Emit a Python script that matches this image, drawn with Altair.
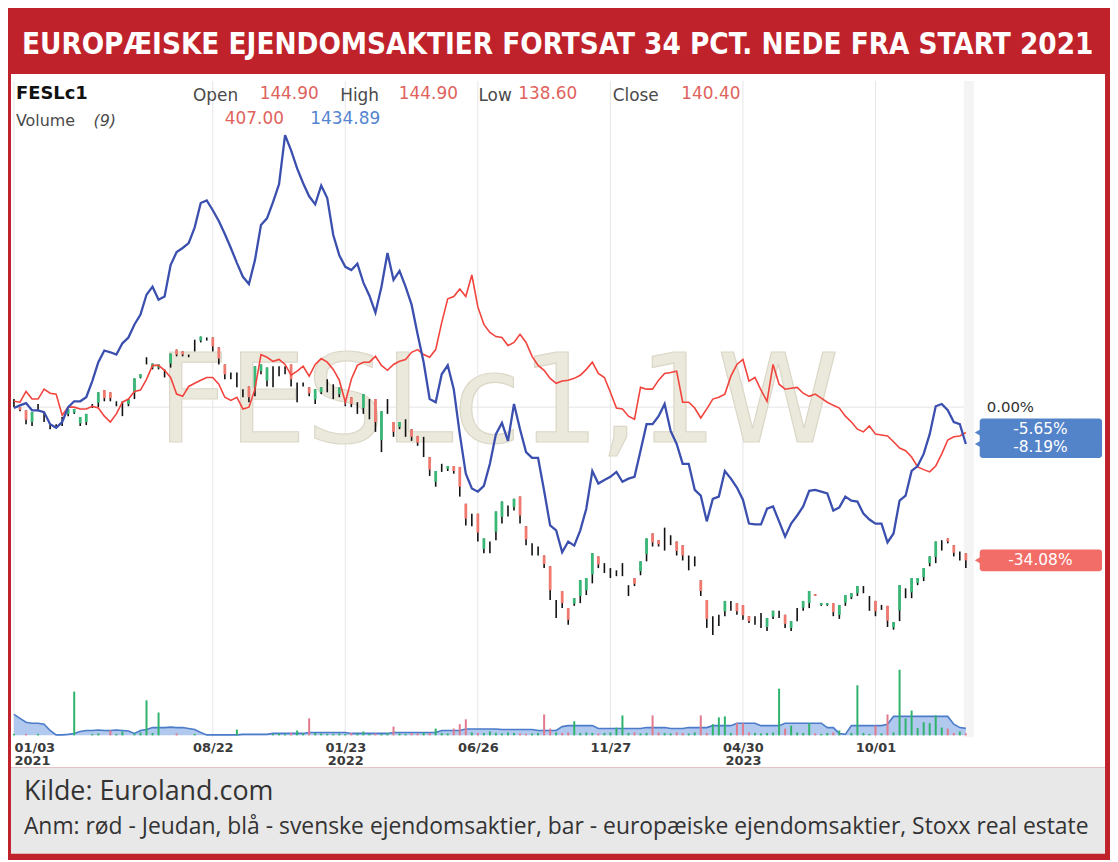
import altair as alt
import pandas as pd

# ---- data (percent change since start of 2021, weekly) ----
blue = [-0.2, 0.4, 0.9, -0.7, -0.7, -1.1, -3.8, -4.6, -3.3, 0.0,
        1.3, 1.3, 2.2, 5.8, 10.0, 12.6, 12.2, 11.7, 14.2, 15.5,
        18.4, 20.6, 25.0, 26.8, 23.9, 24.6, 31.6, 34.5, 35.4, 36.5,
        40.0, 45.4, 46.0, 43.8, 41.4, 38.5, 35.4, 32.1, 29.0, 27.4,
        32.7, 40.5, 42.0, 45.6, 49.6, 60.5, 57.1, 53.1, 49.8, 46.9,
        45.1, 49.3, 46.5, 38.3, 33.8, 31.2, 30.5, 31.9, 27.7, 24.8,
        21.0, 26.8, 34.3, 28.3, 30.3, 26.8, 22.8, 16.2, 10.0, 1.8,
        1.1, 7.3, 9.3, 4.0, -6.0, -14.8, -18.1, -18.8, -17.5, -12.6,
        -6.0, -3.5, -7.5, 0.7, -4.9, -10.0, -11.3, -11.3, -18.6, -26.3,
        -27.4, -32.3, -29.9, -30.8, -27.4, -22.6, -14.2, -17.0, -16.2, -15.5,
        -14.4, -16.6, -15.9, -15.5, -9.7, -3.8, -3.8, -2.0, 0.7, -5.3,
        -8.2, -12.6, -12.6, -18.4, -19.7, -25.4, -20.4, -19.9, -14.2, -15.9,
        -17.9, -20.6, -25.9, -26.1, -26.1, -22.6, -22.1, -25.4, -28.8, -25.9,
        -24.1, -22.1, -18.6, -18.4, -18.8, -19.2, -23.0, -22.3, -19.9, -20.8,
        -21.0, -23.7, -25.0, -25.9, -25.9, -30.1, -28.1, -20.8, -19.7, -14.2,
        -13.1, -10.4, -6.0, 0.2, 0.7, -0.7, -3.3, -3.8, -8.19]

red = [1.3, 1.1, 3.5, 1.8, 1.8, 4.0, 3.1, 2.9, -1.8, 0.0,
       0.0, -0.4, -0.4, 0.2, -0.2, -2.0, -3.3, -1.5, 1.1, 1.8,
       3.5, 3.8, 6.2, 9.3, 9.3, 8.2, 6.6, 2.9, 2.4, 4.6,
       5.3, 6.0, 6.6, 6.6, 5.1, 2.2, 1.5, 2.2, -0.4, 0.0,
       4.0, 11.7, 11.1, 10.2, 10.6, 9.5, 7.1, 8.0, 9.1, 6.9,
       9.5, 10.8, 10.0, 8.4, 6.0, 1.1, 6.2, 9.3, 10.0, 10.0,
       11.3, 9.3, 8.2, 9.5, 10.2, 10.6, 12.2, 12.8, 11.7, 11.1,
       12.8, 18.8, 24.1, 24.6, 26.3, 24.6, 29.4, 22.3, 18.4, 16.6,
       15.7, 15.5, 13.7, 14.4, 16.2, 14.4, 11.3, 9.3, 8.2, 6.4,
       5.3, 5.8, 6.0, 6.4, 7.1, 8.4, 10.0, 7.5, 6.6, 3.3,
       -0.2, -0.4, -2.0, -2.7, 4.4, 4.0, 4.0, 6.0, 7.5, 7.7,
       8.0, 1.1, 1.1, -0.2, -2.4, -0.4, 1.8, 2.2, 2.9, 6.9,
       9.5, 10.6, 5.8, 6.6, 3.8, 1.3, 9.5, 5.1, 4.0, 4.2,
       4.4, 3.1, 2.4, 2.9, 2.0, 1.1, 0.4, -0.2, -2.0, -3.3,
       -4.9, -5.5, -4.2, -6.0, -6.2, -6.4, -7.7, -9.1, -9.7, -11.1,
       -13.3, -13.9, -14.4, -13.1, -10.4, -7.3, -6.6, -6.4, -5.65]

bar_high = [1.8, 0.0, -0.7, -1.1, 0.7, -1.1, -3.8, -3.8, -2.2, -0.4,
            -0.4, -2.2, -1.5, 0.7, 3.3, 3.8, 3.3, 1.3, 1.3, 1.8,
            6.4, 7.3, 11.1, 9.7, 9.5, 8.4, 11.9, 12.8, 12.4, 11.7,
            15.0, 15.7, 15.5, 15.5, 13.3, 9.5, 7.7, 7.7, 4.0, 4.6,
            9.1, 9.5, 8.8, 9.1, 9.1, 9.1, 9.5, 5.5, 5.5, 4.4,
            4.0, 4.4, 6.2, 5.1, 4.4, 1.8, 2.2, 1.1, 2.9, 1.8,
            1.8, -0.9, 1.8, -3.3, -3.3, -2.7, -4.9, -6.4, -6.6, -11.1,
            -14.2, -12.6, -13.1, -13.1, -13.3, -21.5, -23.7, -23.7, -29.2, -29.9,
            -23.2, -21.0, -21.9, -20.4, -19.9, -26.5, -30.3, -31.0, -33.0, -35.4,
            -42.9, -40.9, -44.7, -42.5, -38.5, -38.0, -32.5, -33.2, -34.7, -35.8,
            -36.3, -34.7, -39.6, -38.0, -34.3, -29.2, -28.1, -29.6, -26.8, -28.5,
            -29.9, -30.7, -33.0, -33.2, -38.5, -42.9, -46.5, -46.2, -43.1, -43.1,
            -43.6, -44.0, -46.5, -46.5, -45.8, -46.9, -45.3, -45.3, -46.2, -47.6,
            -44.7, -43.1, -40.9, -41.6, -43.6, -43.6, -43.6, -44.0, -41.8, -41.4,
            -39.8, -39.8, -42.0, -43.1, -44.0, -44.2, -47.8, -39.6, -40.3, -38.0,
            -38.0, -35.8, -33.2, -29.9, -29.6, -29.2, -30.7, -32.1, -32.5]

bar_low = [0.0, -0.9, -3.8, -4.2, -0.9, -3.3, -4.9, -4.6, -4.2, -2.0,
           -1.5, -4.2, -4.0, -0.2, 0.0, 1.3, 1.3, 0.2, -2.0, 0.2,
           1.8, 6.4, 9.5, 8.4, 8.4, 6.6, 8.8, 11.3, 11.3, 11.1,
           12.4, 14.4, 14.8, 12.4, 9.5, 6.2, 6.2, 4.4, 2.2, 1.1,
           2.4, 7.3, 4.6, 4.4, 6.9, 7.3, 4.6, 1.1, 4.6, 2.4,
           0.7, 2.9, 3.3, 1.8, 2.2, 0.2, 0.0, -1.5, -1.5, -2.7,
           -5.5, -10.0, -1.5, -6.6, -4.9, -6.6, -7.5, -8.6, -11.1, -15.3,
           -17.7, -14.4, -14.2, -14.8, -19.9, -26.3, -26.5, -29.9, -32.5, -32.5,
           -29.6, -25.9, -24.3, -23.0, -25.9, -30.7, -33.0, -33.0, -35.8, -42.9,
           -46.9, -44.7, -48.4, -44.2, -43.6, -41.8, -39.2, -35.8, -36.9, -38.0,
           -37.6, -37.6, -42.0, -39.8, -37.4, -34.3, -31.0, -31.0, -31.9, -30.7,
           -33.0, -34.1, -36.3, -35.4, -42.0, -49.1, -50.7, -48.7, -46.5, -45.3,
           -46.2, -47.3, -48.0, -48.4, -49.1, -49.8, -47.1, -46.9, -49.1, -49.8,
           -47.6, -45.3, -44.7, -42.0, -44.2, -44.2, -46.5, -47.1, -44.2, -42.7,
           -42.0, -41.4, -45.3, -46.5, -45.1, -48.9, -49.5, -47.6, -42.5, -42.5,
           -39.6, -38.7, -35.4, -34.7, -31.9, -30.3, -33.2, -34.1, -35.8]

bar_open = [0.9, 0.0, -0.7, -3.3, -0.1, -2.2, -4.3, -4.2, -3.2, -1.5,
            -1.2, -3.6, -3.3, 0.2, 1.0, 3.8, 3.3, 0.8, -0.3, 0.7,
            3.2, 6.6, 10.3, 8.8, 8.8, 7.5, 9.7, 12.8, 12.4, 11.4,
            13.7, 14.8, 15.1, 15.5, 13.3, 9.5, 7.0, 6.0, 3.1, 4.6,
            4.4, 8.0, 5.9, 6.7, 8.0, 8.2, 9.5, 3.3, 5.1, 4.4,
            1.7, 3.3, 4.8, 3.4, 2.9, 1.0, 2.2, -0.2, -0.2, -0.4,
            1.8, -7.3, 0.1, -3.3, -4.4, -4.6, -4.9, -6.4, -8.8, -11.1,
            -16.6, -13.5, -13.7, -13.1, -13.3, -21.5, -25.1, -23.7, -31.5, -31.2,
            -27.7, -24.4, -23.1, -22.2, -19.9, -26.5, -31.6, -32.0, -33.0, -35.4,
            -44.9, -40.9, -44.7, -43.7, -42.0, -40.7, -37.2, -33.2, -35.8, -36.9,
            -37.0, -36.2, -40.8, -38.0, -36.5, -32.7, -28.1, -29.6, -29.3, -29.6,
            -29.9, -30.7, -34.6, -34.3, -38.5, -42.9, -48.6, -47.4, -45.4, -44.2,
            -43.6, -44.0, -46.5, -47.5, -47.4, -48.9, -46.6, -46.1, -46.2, -49.1,
            -46.1, -44.6, -43.6, -41.6, -44.0, -44.0, -43.6, -46.2, -43.5, -42.3,
            -41.4, -40.6, -43.7, -43.1, -44.6, -44.2, -49.0, -45.2, -41.4, -41.2,
            -39.1, -37.8, -34.7, -33.3, -30.8, -29.2, -30.7, -33.1, -32.5]

bar_close = [0.9, -0.6, -2.8, -1.1, -0.1, -2.2, -4.3, -4.2, -3.2, -0.4,
             -0.4, -2.2, -1.5, 0.2, 3.3, 2.0, 2.0, 0.8, -0.3, 1.8,
             6.4, 7.3, 10.3, 9.7, 9.5, 7.5, 11.9, 11.7, 11.7, 11.4,
             13.7, 15.7, 15.1, 13.5, 10.8, 7.3, 7.0, 6.0, 3.1, 2.2,
             9.1, 9.5, 8.8, 6.7, 8.0, 8.2, 6.2, 3.3, 5.1, 3.1,
             4.0, 4.4, 4.8, 3.4, 4.4, 1.0, 0.7, -0.2, 2.9, -0.4,
             -3.3, -0.9, 0.1, -5.5, -3.3, -4.6, -6.6, -7.9, -8.8, -13.9,
             -14.2, -13.5, -13.1, -14.2, -17.7, -24.8, -25.1, -27.9, -29.2, -31.2,
             -23.2, -21.0, -23.1, -20.4, -24.1, -29.4, -31.6, -32.0, -34.9, -40.7,
             -44.9, -43.6, -47.3, -42.5, -38.5, -38.0, -32.5, -35.0, -35.8, -36.9,
             -37.0, -36.2, -40.8, -39.3, -34.3, -29.2, -30.1, -30.5, -29.3, -29.6,
             -32.0, -33.0, -34.6, -34.3, -40.9, -47.1, -48.6, -47.4, -43.1, -44.2,
             -45.4, -46.3, -47.6, -47.5, -47.4, -46.9, -45.3, -46.1, -48.2, -47.6,
             -46.1, -43.1, -40.9, -42.0, -43.6, -43.6, -45.6, -44.0, -41.8, -41.4,
             -39.8, -40.6, -43.7, -45.4, -44.6, -47.5, -47.8, -39.6, -41.4, -38.0,
             -38.0, -35.8, -33.2, -29.9, -30.8, -29.9, -32.4, -33.1, -34.08]

volume = [300, 0, 300, 0, 300, 0, 0, 0, 0, 0,
          9000, 0, 0, 300, 400, 0, 1000, 300, 800, 0,
          400, 600, 7200, 500, 4700, 0, 0, 400, 0, 0,
          300, 0, 0, 0, 0, 0, 0, 1200, 0, 0,
          0, 0, 0, 300, 400, 300, 500, 1000, 400, 3500,
          500, 400, 300, 300, 400, 300, 500, 400, 800, 300,
          400, 300, 500, 1800, 400, 300, 500, 400, 600, 500,
          1400, 500, 400, 1400, 2300, 3300, 600, 500, 500, 800,
          500, 400, 600, 500, 400, 300, 400, 500, 4300, 1400,
          600, 500, 600, 2900, 500, 600, 500, 400, 500, 600,
          1600, 4100, 500, 600, 400, 500, 4100, 600, 500, 400,
          600, 500, 400, 600, 4100, 500, 2300, 3700, 3900, 500,
          2500, 2500, 600, 500, 400, 500, 600, 9600, 1400, 2000,
          600, 500, 2500, 400, 300, 500, 600, 1000, 0, 500,
          10300, 500, 300, 2000, 400, 4300, 600, 13500, 3500, 5100,
          1500, 2700, 2500, 4100, 1600, 1400, 500, 800, 407]

volume_ma = [4300, 3500, 2700, 2500, 2500, 2300, 1000, 100, 100, 200,
             400, 800, 1000, 1000, 1100, 1000, 1000, 1100, 1000, 900,
             400, 1000, 1200, 1600, 1600, 1600, 1700, 1600, 1600, 1400,
             1200, 600, 100, 100, 100, 100, 100, 100, 200, 200,
             200, 200, 200, 400, 400, 400, 400, 400, 400, 600,
             600, 600, 600, 600, 600, 600, 400, 400, 400, 400,
             400, 400, 400, 600, 600, 600, 600, 600, 600, 600,
             600, 1000, 1000, 1000, 1000, 1300, 1300, 1300, 1300, 1300,
             1300, 1200, 1200, 1200, 1200, 1200, 1200, 1000, 1000, 1000,
             1000, 1800, 2000, 2000, 2000, 2000, 2000, 1400, 1400, 1400,
             1400, 1400, 1400, 1400, 1400, 1600, 1600, 1600, 1600, 1400,
             1400, 1400, 1600, 1600, 1600, 1600, 2000, 2000, 2000, 2000,
             2500, 2500, 2500, 2500, 2000, 2000, 2000, 2000, 2500, 2500,
             2500, 2500, 2500, 2500, 2500, 1600, 1600, 400, 200, 2000,
             2000, 2000, 2000, 2000, 2000, 2300, 3900, 3900, 3900, 3900,
             3900, 3900, 3900, 3900, 3900, 3900, 2300, 1600, 1434.89]

tick_dates = ["2021-01-03", "2021-08-22", "2022-01-23", "2022-06-26",
              "2022-11-27", "2023-04-30", "2023-10-01"]

title_text = "EUROPÆISKE EJENDOMSAKTIER FORTSAT 34 PCT. NEDE FRA START 2021"
source_text = "Kilde: Euroland.com"
note_text = ("Anm: rød - Jeudan, blå - svenske ejendomsaktier, "
             "bar - europæiske ejendomsaktier, Stoxx real estate")

# ---- frames ----
dates = pd.date_range("2021-01-03", periods=len(blue), freq="7D").strftime("%Y-%m-%d")
df = pd.DataFrame({"date": dates, "blue": blue, "red": red,
                   "hi": bar_high, "lo": bar_low, "op": bar_open, "cl": bar_close,
                   "vol": volume, "ma": volume_ma})
ticks_df = pd.DataFrame({"date": tick_dates})
one = pd.DataFrame({"a": [0]})

def dt(s):
    y, m, d = (int(p) for p in s.split("-"))
    return alt.DateTime(year=y, month=m, date=d, utc=True)

x_axis = alt.Axis(values=[dt(s) for s in tick_dates], grid=False, domain=False, ticks=False,
                  labelExpr="[utcFormat(datum.value, '%m/%d'), utcmonth(datum.value) < 5 ? utcFormat(datum.value, '%Y') : '']",
                  labelFont="DejaVu Sans", labelFontWeight="bold", labelFontSize=13,
                  labelColor="#3a3a3a", labelPadding=4, labelLineHeight=13,
                  labelFlush=True, labelOverlap=False, title=None, zindex=2)
x_enc = alt.X("date:T", axis=x_axis,
              scale=alt.Scale(type="utc", domain=[dt("2021-01-03"), dt("2024-01-07")], range=[6, 957]))

price_scale = alt.Scale(domain=[-60, 70], range=[670.2, 82.6], nice=False, zero=False)
vol_scale = alt.Scale(domain=[0, 13500], range=[729, 663], nice=False, zero=False)

def py(field):
    return alt.Y(field, type="quantitative", scale=price_scale, axis=None)

def vy(field):
    return alt.Y(field, type="quantitative", scale=vol_scale, axis=None)

def txt(s, x, y, size=17, color="#444", weight="normal", font="DejaVu Sans", style="normal", align="left"):
    return alt.Chart(one).mark_text(text=s, align=align, baseline="middle", fontSize=size, color=color,
                                    fontWeight=weight, font=font, fontStyle=style).encode(
        x=alt.value(x), y=alt.value(y))

layers = []
# panels
layers.append(alt.Chart(one).mark_rect(color="white").encode(
    x=alt.value(3), x2=alt.value(1103), y=alt.value(64), y2=alt.value(761)))
layers.append(alt.Chart(one).mark_rect(color="#e8e8e8").encode(
    x=alt.value(3), x2=alt.value(1103), y=alt.value(761), y2=alt.value(848)))
layers.append(alt.Chart(one).mark_rect(color="#f4f4f4").encode(
    x=alt.value(961), x2=alt.value(971), y=alt.value(71), y2=alt.value(731)))
# grid
layers.append(alt.Chart(ticks_df).mark_rule(color="#e6e6e6", strokeWidth=1).encode(
    x=x_enc, y=alt.value(71), y2=alt.value(731)))
layers.append(alt.Chart(pd.DataFrame({"v": [0.0]})).mark_rule(color="#e6e6e6", strokeWidth=1).encode(
    y=py("v"), x=alt.value(6), x2=alt.value(961)))
# watermark
layers.append(alt.Chart(one).mark_text(text="FESLc1,1W", align="center", baseline="alphabetic",
                                       fontSize=124, font="DejaVu Sans", color="#ebe8dc",
                                       stroke="#dcd8c8", strokeWidth=1.2).encode(
    x=alt.value(493), y=alt.value(434)))

base = alt.Chart(df)
# volume
layers.append(base.mark_area(color="#a9c3ec", opacity=0.9,
                             line={"color": "#4b7bc9", "strokeWidth": 1.6}).encode(
    x=x_enc, y=vy("ma")))
layers.append(base.mark_rule(strokeWidth=2).encode(
    x=x_enc, y=vy("vol"), y2=alt.datum(0),
    color=alt.when(alt.datum.cl >= alt.datum.op).then(alt.value("#2fb36c")).otherwise(alt.value("#e07a8c"))))
# candles
layers.append(base.mark_rule(color="#111111", strokeWidth=1.6).encode(
    x=x_enc, y=py("hi"), y2=alt.Y2("lo")))
layers.append(base.mark_rule(strokeWidth=2.8).encode(
    x=x_enc, y=py("op"), y2=alt.Y2("cl"),
    color=alt.when(alt.datum.cl > alt.datum.op).then(alt.value("#3ab877")).otherwise(alt.value("#f07a70"))))
# lines
layers.append(base.mark_line(color="#f2433d", strokeWidth=1.6).encode(x=x_enc, y=py("red")))
layers.append(base.mark_line(color="#3b4fae", strokeWidth=2.3).encode(x=x_enc, y=py("blue")))

# header legend text
layers += [
    txt("FESLc1", 8, 84, size=18, color="#111", weight="bold"),
    txt("Open", 186, 86, color="#4a4a4a"),
    txt("144.90", 253, 84, color="#e0625c"),
    txt("High", 334, 86, color="#4a4a4a"),
    txt("144.90", 393, 84, color="#e0625c"),
    txt("Low", 473, 86, color="#4a4a4a"),
    txt("138.60", 513, 84, color="#e0625c"),
    txt("Close", 608, 86, color="#4a4a4a"),
    txt("140.40", 677, 84, color="#e0625c"),
    txt("Volume", 8, 111, size=16, color="#4a4a4a"),
    txt("(9)", 86, 111, size=16, color="#4a4a4a", style="italic"),
    txt("407.00", 218, 109, color="#e0625c"),
    txt("1434.89", 304, 109, color="#5585d0"),
]

# right side value labels
lbl = pd.DataFrame({"v": [red[-1], blue[-1], bar_close[-1]],
                    "txt": [f"{red[-1]:.2f}%", f"{blue[-1]:.2f}%", f"{bar_close[-1]:.2f}%"],
                    "box": ["#5383c9", "#5383c9", "#f26d67"],
                    "shift": [-3.2, 3.2, 0.0]})
lb = alt.Chart(lbl).transform_calculate(top="datum.v + 2.4 - datum.shift / 4.52",
                                        bot="datum.v - 2.4 - datum.shift / 4.52")
layers.append(lb.mark_rect(cornerRadius=3).encode(
    x=alt.value(977), x2=alt.value(1100), y=py("top"), y2=alt.Y2("bot"),
    color=alt.Color("box:N", scale=None)))
layers.append(lb.mark_point(shape="triangle-left", filled=True, size=45, opacity=1).encode(
    x=alt.value(975), y=py("v"), color=alt.Color("box:N", scale=None)))
for k in range(3):
    layers.append(alt.Chart(lbl.iloc[[k]]).mark_text(
        align="center", baseline="middle", color="white", font="DejaVu Sans", fontSize=15.5,
        dy=float(lbl["shift"].iloc[k])).encode(
        x=alt.value(1038), y=py("v"), text="txt:N"))
layers.append(alt.Chart(pd.DataFrame({"v": [0.0], "txt": ["0.00%"]})).mark_text(
    align="left", baseline="middle", color="#333", font="DejaVu Sans", fontSize=15).encode(
    x=alt.value(984), y=py("v"), text="txt:N"))

# title and footer
layers.append(txt(title_text, 14, 35, size=29.5, color="white", weight="bold",
                  font="DejaVu Sans Condensed, DejaVu Sans, sans-serif"))
layers.append(txt(source_text, 16, 786, size=27, color="#333", font="Open Sans"))
layers.append(txt(note_text, 16, 821, size=23, color="#333", font="Open Sans"))

chart = alt.layer(*layers).properties(
    width=1108, height=731,
    autosize=alt.AutoSizeParams(type="none"),
    padding={"left": 0, "top": 0, "right": 0, "bottom": 121},
    background="#c0222b",
).resolve_scale(y="independent").configure_view(stroke=None)

chart.save("out.html", embed_options={"renderer": "svg", "actions": False})
